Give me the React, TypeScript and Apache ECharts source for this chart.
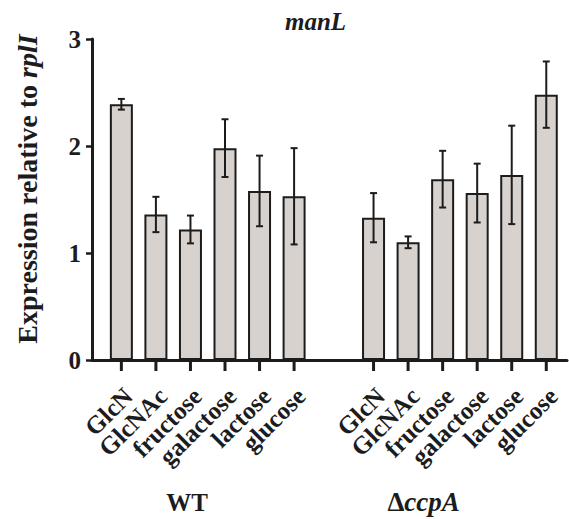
import React, { useEffect, useRef } from "react";
import * as echarts from "echarts";

// ---- data ----
const sugarLabels = ["GlcN", "GlcNAc", "fructose", "galactose", "lactose", "glucose"];
const wtValues = [2.39, 1.36, 1.22, 1.98, 1.58, 1.53];
const wtErrors = [0.05, 0.165, 0.13, 0.27, 0.33, 0.45];
const ccpaValues = [1.33, 1.1, 1.69, 1.56, 1.73, 2.48];
const ccpaErrors = [0.23, 0.055, 0.265, 0.275, 0.46, 0.31];
const groupNames = ["{w|WT}", "{d|Δ}{i|ccpA}"];
const groupStarts = [1, 8.3];
const groupLabelPositions = [2.9, 9.75];
const yMin = 0;
const yMax = 3;
const yInterval = 1;
const titleText = "manL";

const FONT = "Liberation Serif";
const INK = "#1c1c1c";
const BAR_FILL = "#d8d2ce";

const wtPos = sugarLabels.map((_, i) => groupStarts[0] + i);
const ccpaPos = sugarLabels.map((_, i) => groupStarts[1] + i);

const allPos = [...wtPos, ...ccpaPos];
const allLabels = [...sugarLabels, ...sugarLabels];
const barData = [
  ...wtPos.map((p, i) => [p, wtValues[i]]),
  ...ccpaPos.map((p, i) => [p, ccpaValues[i]]),
];
const errData = [
  ...wtPos.map((p, i) => [p, wtValues[i] - wtErrors[i], wtValues[i] + wtErrors[i]]),
  ...ccpaPos.map((p, i) => [p, ccpaValues[i] - ccpaErrors[i], ccpaValues[i] + ccpaErrors[i]]),
];

export default function App() {
  const ref = useRef<HTMLDivElement>(null);
  useEffect(() => {
    if (!ref.current) return;
    const chart = echarts.init(ref.current, null, { renderer: "svg" });
    const option: any = {
      animation: false,
      title: {
        text: titleText,
        left: 280,
        top: 4,
        textStyle: {
          fontFamily: FONT,
          fontStyle: "italic",
          fontWeight: "bold",
          fontSize: 25,
          color: INK,
        },
      },
      grid: {
        left: 92,
        right: 2,
        top: 39,
        bottom: 159,
        containLabel: false,
        outerBoundsMode: "none",
      },
      xAxis: {
        type: "value",
        min: 0.15,
        max: 13.9,
        axisLine: { show: true, lineStyle: { color: INK, width: 3 } },
        axisTick: { show: false },
        axisLabel: { show: false },
        splitLine: { show: false },
      },
      yAxis: {
        type: "value",
        min: yMin,
        max: yMax,
        interval: yInterval,
        axisLine: { show: true, lineStyle: { color: INK, width: 3 } },
        axisTick: { show: true, length: 6, lineStyle: { color: INK, width: 2.5 } },
        axisLabel: {
          margin: 11,
          fontFamily: FONT,
          fontWeight: "bold",
          fontSize: 25,
          color: INK,
        },
        splitLine: { show: false },
      },
      graphic: [
        {
          type: "text",
          x: 27,
          y: 189,
          rotation: Math.PI / 2,
          style: {
            text: "Expression relative to {i|rplI}",
            fontFamily: FONT,
            fontWeight: "bold",
            fontSize: 28,
            fill: INK,
            align: "center",
            verticalAlign: "middle",
            rich: {
              i: {
                fontFamily: FONT,
                fontWeight: "bold",
                fontStyle: "italic",
                fontSize: 28,
                fill: INK,
              },
            },
          },
        },
      ],
      series: [
        {
          type: "bar",
          data: barData,
          barWidth: 23,
          itemStyle: { color: BAR_FILL, borderColor: INK, borderWidth: 2 },
          z: 2,
        },
        {
          type: "custom",
          data: errData,
          clip: false,
          z: 3,
          renderItem: (params: any, api: any) => {
            const x = api.value(0);
            const lo = api.value(1);
            const hi = api.value(2);
            const top = api.coord([x, hi]);
            const bot = api.coord([x, lo]);
            const cw = 3.5;
            const style = { stroke: INK, lineWidth: 2 };
            return {
              type: "group",
              children: [
                { type: "line", shape: { x1: top[0], y1: top[1], x2: bot[0], y2: bot[1] }, style },
                { type: "line", shape: { x1: top[0] - cw, y1: top[1], x2: top[0] + cw, y2: top[1] }, style },
                { type: "line", shape: { x1: bot[0] - cw, y1: bot[1], x2: bot[0] + cw, y2: bot[1] }, style },
              ],
            };
          },
        },
        {
          type: "custom",
          data: allPos.map((p) => [p, 0]),
          clip: false,
          z: 3,
          renderItem: (params: any, api: any) => {
            const pt = api.coord([api.value(0), 0]);
            const label = allLabels[params.dataIndex];
            return {
              type: "group",
              children: [
                {
                  type: "line",
                  shape: { x1: pt[0], y1: pt[1], x2: pt[0], y2: pt[1] + 11 },
                  style: { stroke: INK, lineWidth: 3 },
                },
                {
                  type: "text",
                  x: pt[0] + 7,
                  y: pt[1] + 32,
                  rotation: Math.PI / 4,
                  style: {
                    text: label,
                    fontFamily: FONT,
                    fontWeight: "bold",
                    fontSize: 25,
                    fill: INK,
                    align: "right",
                    verticalAlign: "middle",
                  },
                },
              ],
            };
          },
        },
        {
          type: "custom",
          data: groupLabelPositions.map((p) => [p, 0]),
          clip: false,
          z: 3,
          renderItem: (params: any, api: any) => {
            const pt = api.coord([api.value(0), 0]);
            const rich = {
              w: { fontFamily: FONT, fontWeight: "bold", fontSize: 25, fill: INK },
              d: { fontFamily: FONT, fontWeight: "bold", fontSize: 27, fill: INK },
              i: { fontFamily: FONT, fontWeight: "bold", fontStyle: "italic", fontSize: 27, fill: INK },
            };
            return {
              type: "text",
              x: pt[0],
              y: pt[1] + 142,
              style: {
                text: groupNames[params.dataIndex],
                rich,
                fontFamily: FONT,
                fontWeight: "bold",
                fontSize: 25,
                fill: INK,
                align: "center",
                verticalAlign: "middle",
              },
            };
          },
        },
      ],
    };
    chart.setOption(option);
    return () => chart.dispose();
  }, []);
  return (
    <div
      ref={ref}
      style={{ position: "absolute", left: 0, top: 0, width: 569, height: 519 }}
    />
  );
}
